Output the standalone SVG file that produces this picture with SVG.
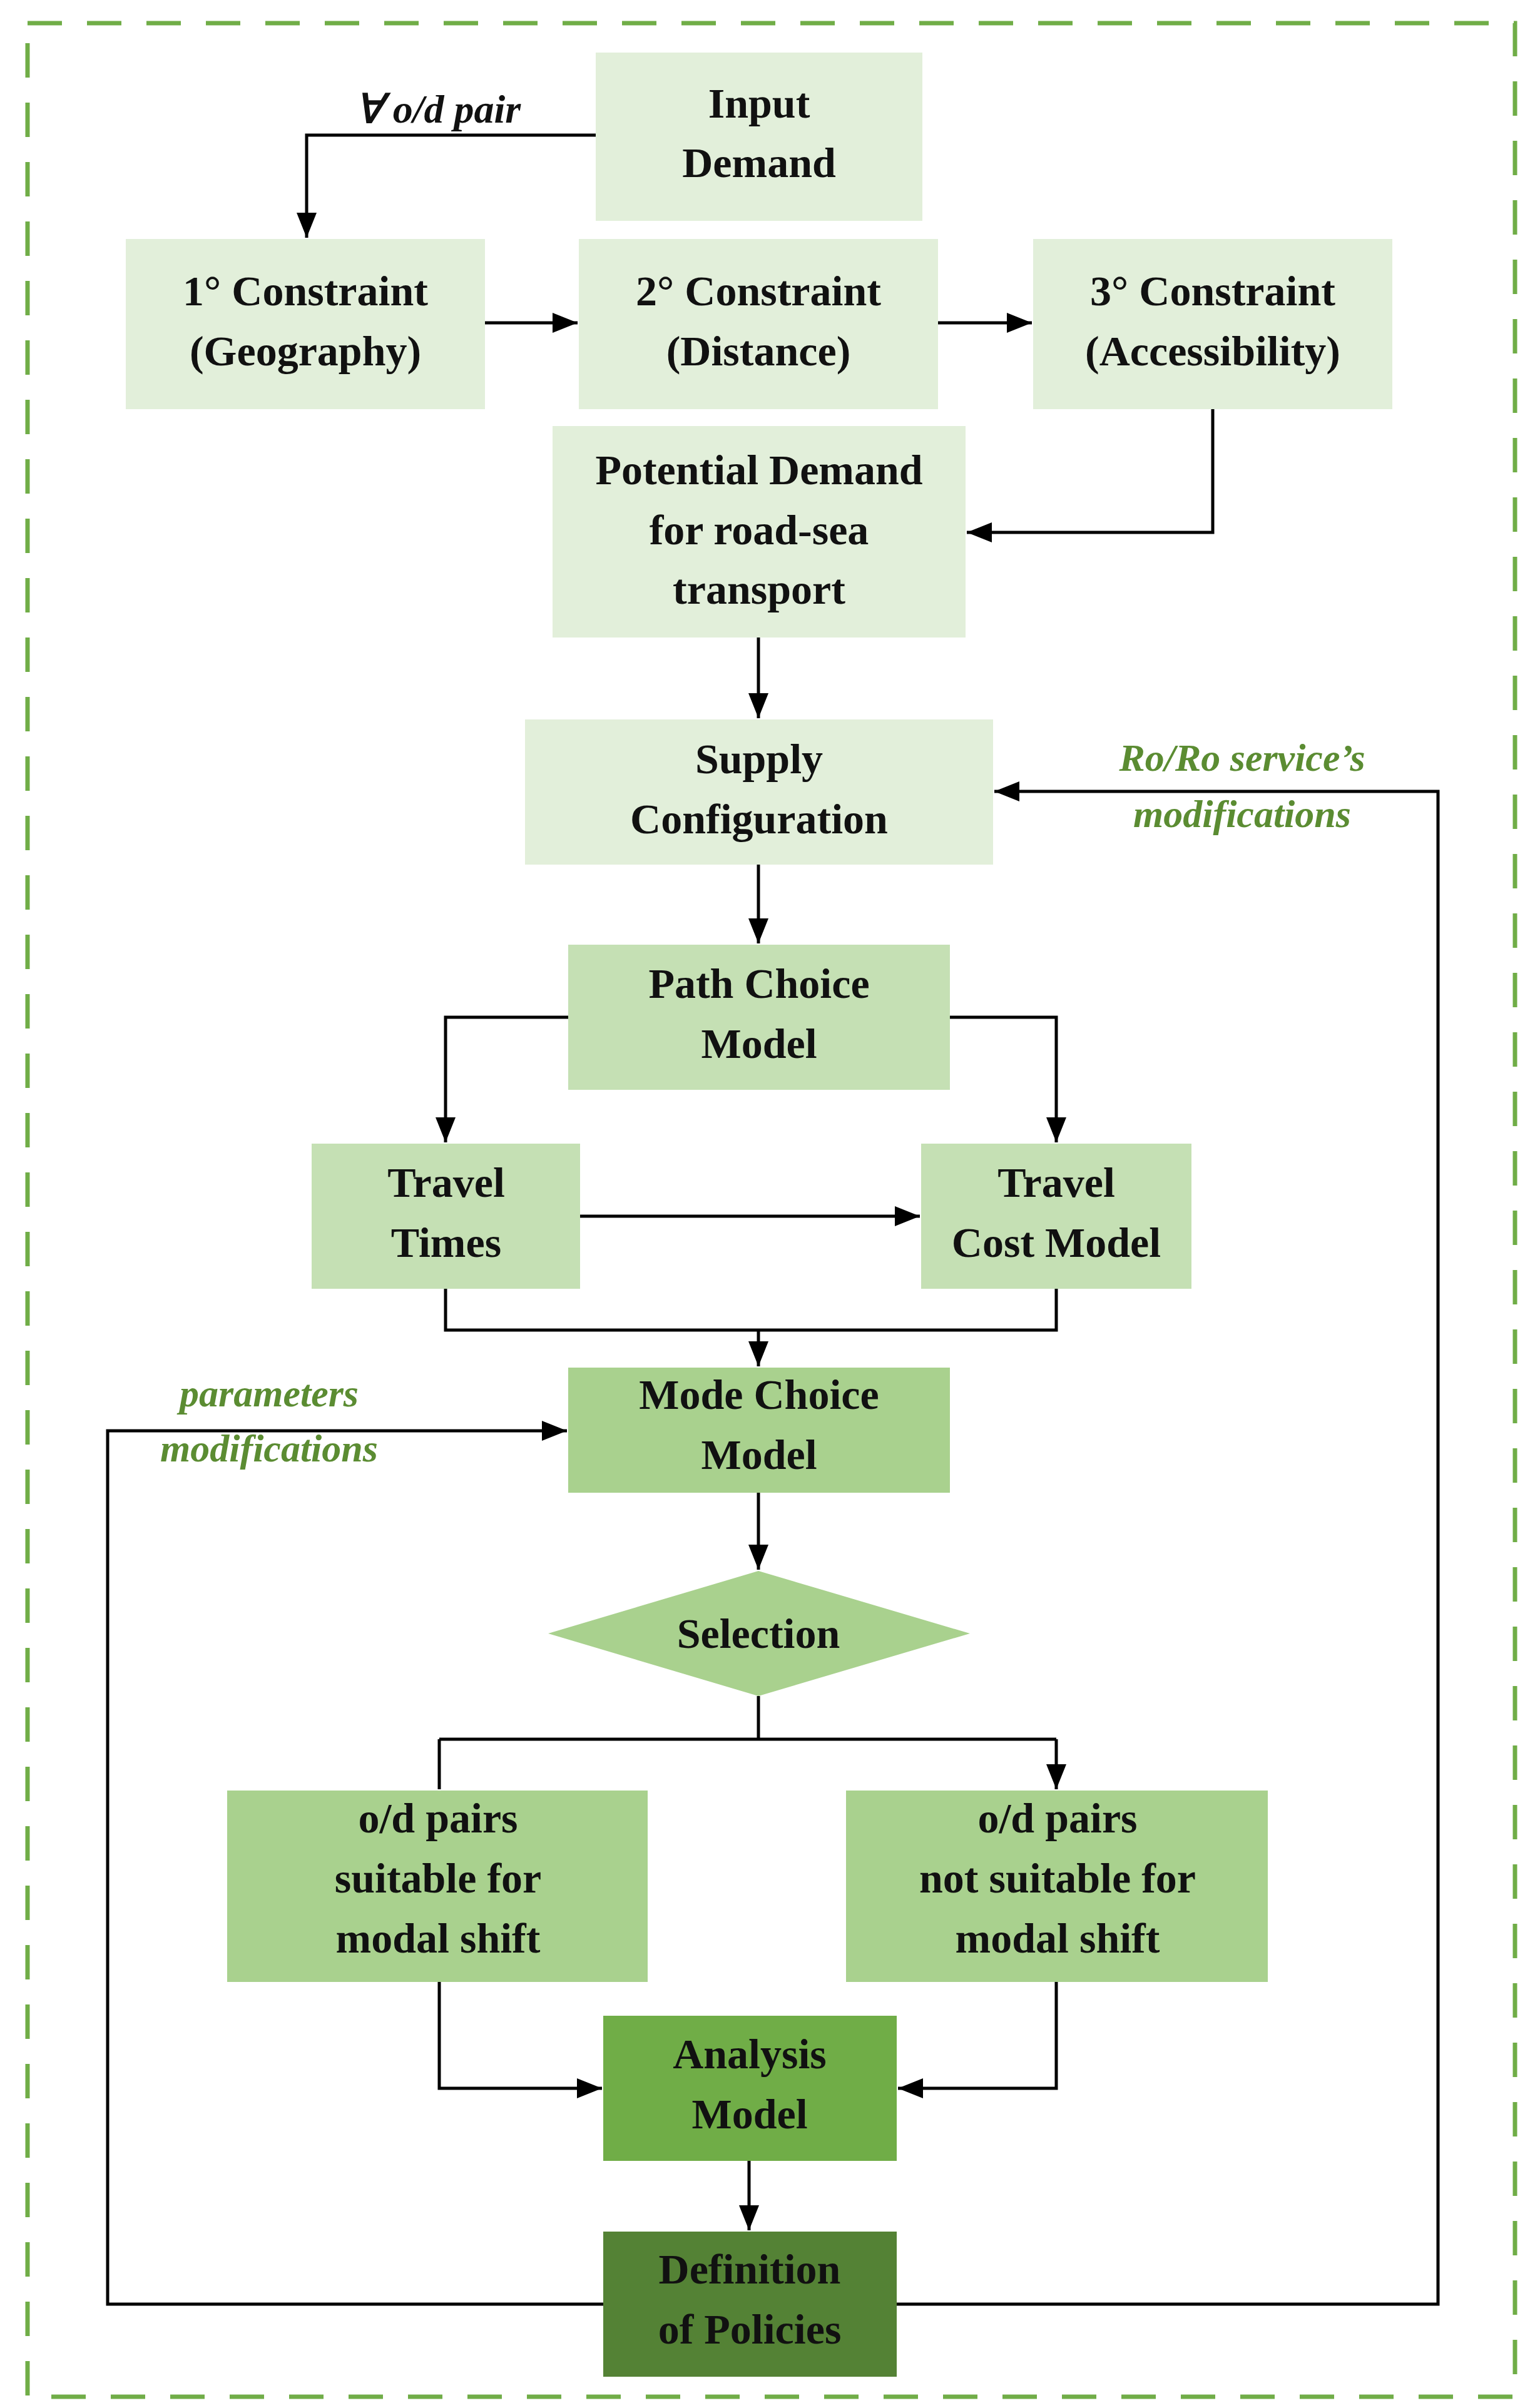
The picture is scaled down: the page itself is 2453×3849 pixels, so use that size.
<svg xmlns="http://www.w3.org/2000/svg" width="2453" height="3849" viewBox="0 0 2453 3849">
<style>
text{font-family:"Liberation Serif","Times New Roman",serif;font-weight:bold;font-size:68px;text-anchor:middle;fill:#111}
.lbl{font-style:italic;fill:#5b8c32;font-size:62px}
.c{fill:none;stroke:#000;stroke-width:5}
</style>
<defs><marker id="a" viewBox="0 0 10 10" refX="10" refY="5" markerWidth="7" markerHeight="7" markerUnits="userSpaceOnUse" orient="auto"><path d="M0,0L10,5L0,10z" fill="#000"/></marker>
<marker id="ah" viewBox="0 0 10 10" refX="10" refY="5" markerWidth="8" markerHeight="8" orient="auto"><path d="M0,1L10,5L0,9z" fill="#000"/></marker></defs>
<rect width="2453" height="3849" fill="#fff"/>
<rect x="44" y="37" width="2377" height="3794" fill="none" stroke="#70ad47" stroke-width="7" stroke-dasharray="55,40"/>
<g id="connectors" class="c" marker-end="url(#ah)">
<path d="M952,216H490V380"/>
<path d="M775,516H923"/>
<path d="M1499,516H1649"/>
<path d="M1938,654V851H1545"/>
<path d="M1212,1019V1148"/>
<path d="M1212,1382V1508"/>
<path d="M908,1626H712V1826"/>
<path d="M1518,1626H1688V1826"/>
<path d="M927,1944H1470"/>
<path d="M712,2060V2126H1688V2060M1212,2126V2184"/>
<path d="M964,3683H172V2287H906"/>
<path d="M1433,3683H2298V1265H1589"/>
<path d="M1212,2386V2509"/>
<path d="M1212,2711V2780M702,2780H1688M702,2780V2860M1688,2780V2860"/>
<path d="M702,3168V3338H962"/>
<path d="M1688,3168V3338H1435"/>
<path d="M1197,3454V3565"/>
</g>
<g id="n_input"><rect x="952" y="84" width="522" height="269" fill="#e2efda"/><text x="1213" y="188">Input</text><text x="1213" y="283">Demand</text></g>
<g id="n_c1"><rect x="201" y="382" width="574" height="272" fill="#e2efda"/><text x="488" y="488">1° Constraint</text><text x="488" y="584">(Geography)</text></g>
<g id="n_c2"><rect x="925" y="382" width="574" height="272" fill="#e2efda"/><text x="1212" y="488">2° Constraint</text><text x="1212" y="584">(Distance)</text></g>
<g id="n_c3"><rect x="1651" y="382" width="574" height="272" fill="#e2efda"/><text x="1938" y="488">3° Constraint</text><text x="1938" y="584">(Accessibility)</text></g>
<g id="n_pot"><rect x="883" y="681" width="660" height="338" fill="#e2efda"/><text x="1213" y="774">Potential Demand</text><text x="1213" y="870">for road-sea</text><text x="1213" y="965">transport</text></g>
<g id="n_supply"><rect x="839" y="1150" width="748" height="232" fill="#e2efda"/><text x="1213" y="1236">Supply</text><text x="1213" y="1332">Configuration</text></g>
<g id="n_path"><rect x="908" y="1510" width="610" height="232" fill="#c5e0b4"/><text x="1213" y="1595">Path Choice</text><text x="1213" y="1691">Model</text></g>
<g id="n_tt"><rect x="498" y="1828" width="429" height="232" fill="#c5e0b4"/><text x="713" y="1913">Travel</text><text x="713" y="2009">Times</text></g>
<g id="n_tc"><rect x="1472" y="1828" width="432" height="232" fill="#c5e0b4"/><text x="1688" y="1913">Travel</text><text x="1688" y="2009">Cost Model</text></g>
<g id="n_mode"><rect x="908" y="2186" width="610" height="200" fill="#a9d18e"/><text x="1213" y="2252">Mode Choice</text><text x="1213" y="2348">Model</text></g>
<g id="n_sel"><polygon points="876,2611 1212,2511 1550,2611 1212,2711" fill="#a9d18e"/><text x="1212" y="2634">Selection</text></g>
<g id="n_suit"><rect x="363" y="2862" width="672" height="306" fill="#a9d18e"/><text x="700" y="2929">o/d pairs</text><text x="700" y="3025">suitable for</text><text x="700" y="3121">modal shift</text></g>
<g id="n_nsuit"><rect x="1352" y="2862" width="674" height="306" fill="#a9d18e"/><text x="1690" y="2929">o/d pairs</text><text x="1690" y="3025">not suitable for</text><text x="1690" y="3121">modal shift</text></g>
<g id="n_anal"><rect x="964" y="3222" width="469" height="232" fill="#70ad47"/><text x="1198" y="3306">Analysis</text><text x="1198" y="3402">Model</text></g>
<g id="n_def"><rect x="964" y="3567" width="469" height="232" fill="#548235"/><text x="1198" y="3650">Definition</text><text x="1198" y="3746">of Policies</text></g>
<text x="700" y="196" style="font-style:italic;font-size:64px">∀ o/d pair</text>
<text class="lbl" x="1985" y="1232">Ro/Ro service’s</text>
<text class="lbl" x="1985" y="1322">modifications</text>
<text class="lbl" x="430" y="2248">parameters</text>
<text class="lbl" x="430" y="2336">modifications</text>
</svg>
